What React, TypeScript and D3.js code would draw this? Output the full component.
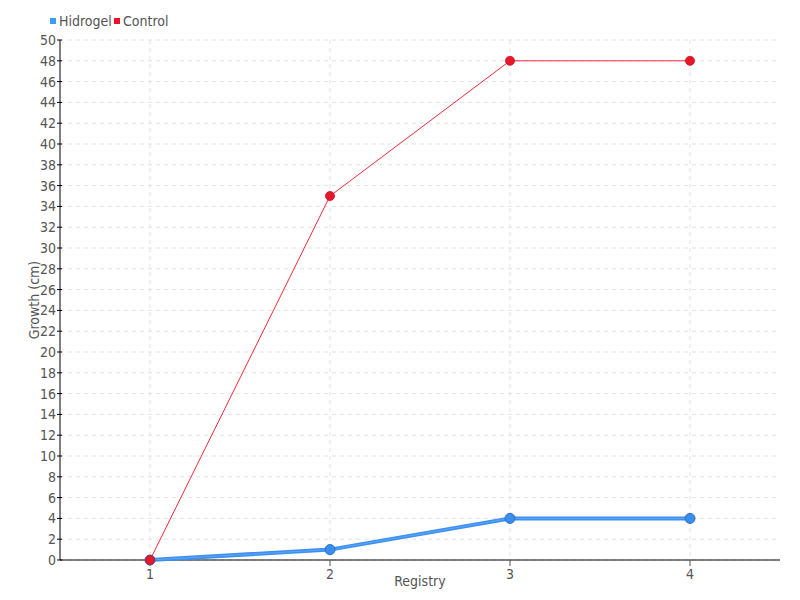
import React from "react";
import * as d3 from "d3";

const categories = ["1", "2", "3", "4"];
const hidrogel = [0, 1, 4, 4];
const control = [0, 35, 48, 48];
const yTicks = d3.range(0, 51, 2);

const W = 800, H = 600;
const M = { left: 60, right: 20, top: 40, bottom: 40 };
const FONT = "'DejaVu Sans', sans-serif";

export default function App() {
  const x = d3.scalePoint<string>().domain(categories).range([M.left, W - M.right]).padding(0.5);
  const y = d3.scaleLinear().domain([0, 50]).range([H - M.bottom, M.top]);
  const line = d3.line<number>().x((_, i) => x(categories[i])!).y((d) => y(d));
  return (
    <svg width={W} height={H} style={{ position: "absolute", left: 0, top: 0, fontFamily: FONT, fontStretch: "condensed" }}>
      <rect width={W} height={H} fill="#fff" />
      {yTicks.map((t) => (
        <line key={"g" + t} x1={M.left} x2={W - M.right} y1={y(t)} y2={y(t)} stroke="#e3e3e3" strokeDasharray="4,4" />
      ))}
      {categories.map((c) => (
        <line key={"v" + c} x1={x(c)} x2={x(c)} y1={M.top} y2={H - M.bottom} stroke="#e3e3e3" strokeDasharray="4,4" />
      ))}
      <line x1={M.left} x2={M.left} y1={M.top} y2={H - M.bottom} stroke="#000" />
      <line x1={M.left} x2={W - M.right} y1={H - M.bottom} y2={H - M.bottom} stroke="#000" />
      {yTicks.map((t) => (
        <g key={"t" + t}>
          <line x1={M.left - 3} x2={M.left + 2} y1={y(t)} y2={y(t)} stroke="#000" />
          <text x={M.left - 4} y={y(t)} dy="0.35em" textAnchor="end" fontSize={14} fill="#555">{t}</text>
        </g>
      ))}
      {categories.map((c) => (
        <g key={"x" + c}>
          <line x1={x(c)} x2={x(c)} y1={H - M.bottom} y2={H - M.bottom + 6} stroke="#555" />
          <text x={x(c)} y={H - M.bottom + 19} textAnchor="middle" fontSize={14} fill="#555">{c}</text>
        </g>
      ))}
      <text x={420} y={586} textAnchor="middle" fontSize={14} fill="#555">Registry</text>
      <text transform={`translate(39,${300}) rotate(-90)`} textAnchor="middle" fontSize={14} fill="#555">Growth (cm)</text>
      <path d={line(hidrogel)!} fill="none" stroke="#3d90f0" strokeWidth={4} />
      <path d={line(hidrogel)!} fill="none" stroke="#5aa6f6" strokeWidth={1} />
      <path d={line(control)!} fill="none" stroke="#f5283c" strokeWidth={1} />
      {hidrogel.map((v, i) => (
        <circle key={"h" + i} cx={x(categories[i])} cy={y(v)} r={5} fill="#3a8ef0" stroke="#2a6fc4" strokeWidth={1} />
      ))}
      {control.map((v, i) => (
        <circle key={"c" + i} cx={x(categories[i])} cy={y(v)} r={4.5} fill="#e8172a" stroke="#c8101e" strokeWidth={0.8} />
      ))}
      <rect x={50} y={18} width={6} height={6} fill="#3d9af5" />
      <text x={59} y={26} fontSize={14} fill="#555">Hidrogel</text>
      <rect x={114} y={18} width={6} height={6} fill="#f01028" />
      <text x={123} y={26} fontSize={14} fill="#555">Control</text>
    </svg>
  );
}
